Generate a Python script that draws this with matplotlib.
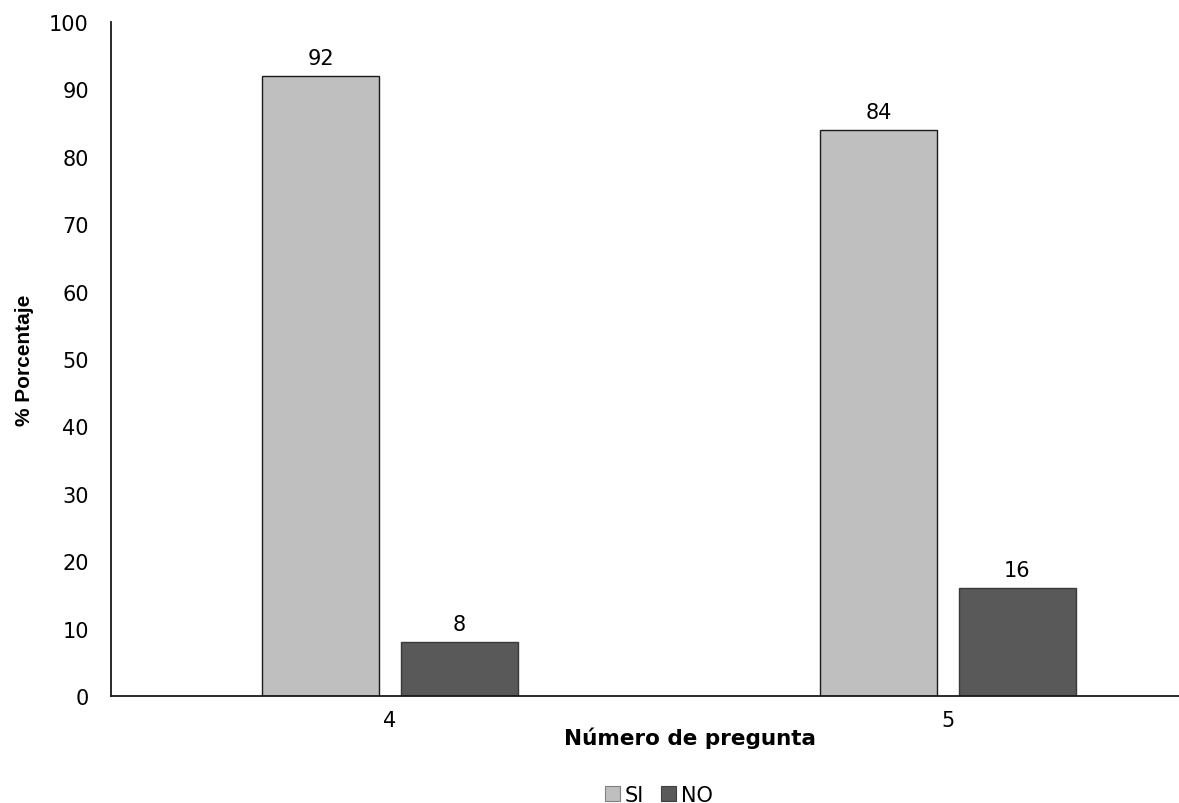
import matplotlib
matplotlib.use("Agg")
import matplotlib.pyplot as plt
import numpy as np
from matplotlib.patches import Patch

categories = ["4", "5"]
si_values = [92, 84]
no_values = [8, 16]
series_labels = ["SI", "NO"]

FONT = "DejaVu Sans"
fig = plt.figure(figsize=(11.79, 8.04), dpi=100)
ax = fig.add_axes([111/1179, 1-697/804, 1116/1179, (697-23)/804])

x = np.arange(len(categories))
w = 0.211
off = 0.1245
b1 = ax.bar(x - off, si_values, w, color="#BFBFBF", edgecolor="#1a1a1a", linewidth=1.0, label=series_labels[0])
b2 = ax.bar(x + off, no_values, w, color="#595959", edgecolor="#3a3a3a", linewidth=1.0, label=series_labels[1])

for bars, vals in ((b1, si_values), (b2, no_values)):
    for r, v in zip(bars, vals):
        ax.annotate(f"{v}", (r.get_x() + r.get_width()/2, v), xytext=(0, 6), textcoords="offset points",
                    ha="center", va="bottom", fontsize=15, family=FONT)

ax.set_xlim(-0.5, 1.5)
ax.set_ylim(0, 100)
ax.set_yticks(range(0, 101, 10))
ax.set_xticks(x)
ax.set_xticklabels(categories)
ax.tick_params(axis="both", length=0, labelsize=15)
ax.tick_params(axis="x", pad=10)
ax.tick_params(axis="y", pad=16)
for lab in ax.get_xticklabels() + ax.get_yticklabels():
    lab.set_family(FONT)
for s in ("top", "right"):
    ax.spines[s].set_visible(False)
for s in ("left", "bottom"):
    ax.spines[s].set_linewidth(1.3)
    ax.spines[s].set_color("#1a1a1a")

fig.text(690/1179, 1-738/804, "Número de pregunta", ha="center", va="center",
         fontsize=15.5, fontweight="bold", family=FONT)
fig.text(24/1179, 1-360/804, "% Porcentaje", ha="center", va="center", rotation=90,
         fontsize=15, fontweight="bold", family=["Liberation Sans Narrow", "Liberation Sans"])

handles = [Patch(facecolor="#BFBFBF", edgecolor="#7f7f7f", linewidth=0.8),
           Patch(facecolor="#595959", edgecolor="#404040", linewidth=0.8)]
fig.legend(handles, series_labels, loc="center", bbox_to_anchor=(659/1179, 1-796/804), ncol=2,
           frameon=False, prop={"family": FONT, "size": 15},
           handlelength=0.7, handleheight=0.7, handletextpad=0.25, columnspacing=0.8,
           borderpad=0.0, borderaxespad=0.0)

fig.savefig("out.png", dpi=100)
